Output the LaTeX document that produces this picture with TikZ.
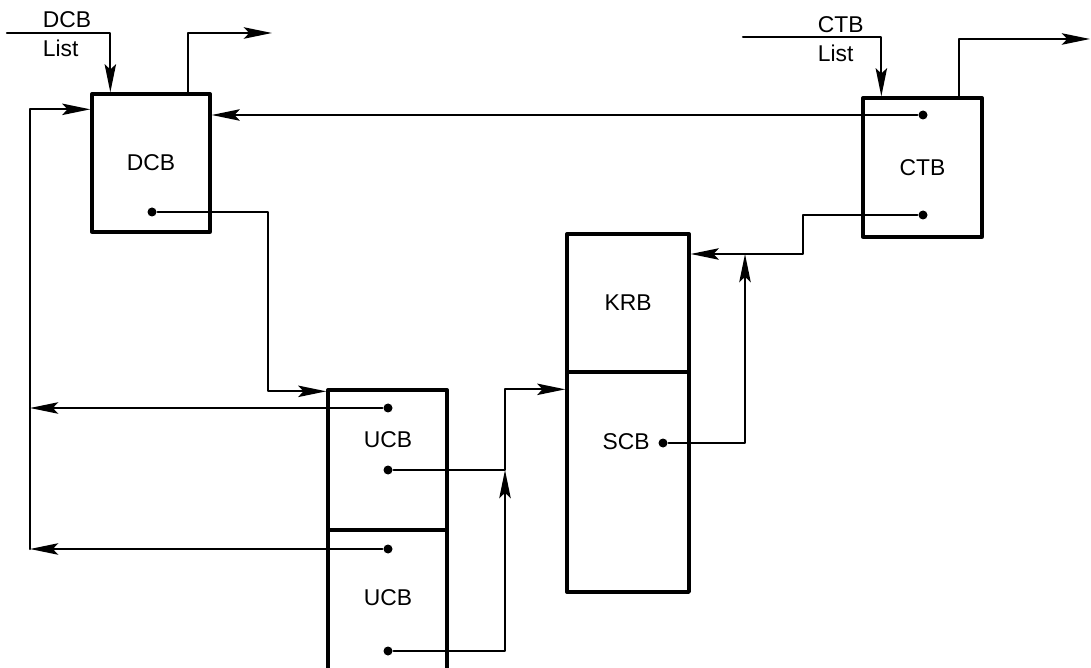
\documentclass[tikz,border=0pt]{standalone}
\usepackage{fontspec}
\setmainfont{Liberation Sans}
\usetikzlibrary{arrows.meta}
\tikzset{
	blk/.style={draw,line width=1.9pt,inner sep=0pt},
	dot/.style={circle,fill,inner sep=0pt,minimum size=1.8mm},
}
\begin{document}
\begin{tikzpicture}[x=0.2mm,y=-0.2mm,>={Stealth[length=16pt,width=6.5pt,inset=3pt]},line join=round,line cap=round,line width=1.2pt,font=\fontsize{13}{15}\selectfont]
	\useasboundingbox (0,0) rectangle (1091,668);
	% blocks
	\node[blk,minimum width=2.36cm,minimum height=2.76cm] (dcb) at (151,163) {DCB};
	\node[blk,minimum width=2.38cm,minimum height=2.78cm] (ctb) at (922.5,167.5) {CTB};
	\node[blk,minimum width=2.44cm,minimum height=2.76cm] (krb) at (628,303) {KRB};
	\node[blk,minimum width=2.44cm,minimum height=4.4cm] (scb) at (628,482) {};
	\node[blk,minimum width=2.38cm,minimum height=2.8cm] (ucba) at (387.5,460) {};
	\node[minimum width=2.38cm,minimum height=3.2cm,inner sep=0pt,outer sep=0pt] (ucbb) at (387.5,610) {};
	\draw[line width=1.9pt] (ucbb.south west)--(ucbb.north west)--(ucbb.north east)--(ucbb.south east);
	\node (scbtxt) at (626,442) {SCB};
	\node (ucbatxt) at (388,440) {UCB};
	\node (ucbbtxt) at (388,598) {UCB};
	% pointers
	\node[dot] (dd) at (152,212) {};
	\node[dot] (ct1) at (923,115) {};
	\node[dot] (ct2) at (923,215) {};
	\node[dot] (sd) at (663,443) {};
	\node[dot] (ua) at (388,408) {};
	\node[dot] (ub) at (388,470) {};
	\node[dot] (uc) at (388,549) {};
	\node[dot] (ud) at (388,651) {};
	\coordinate (dcbin) at (7,33);
	\coordinate (dcbout) at (272,33);
	\coordinate (ctbin) at (743,37);
	\coordinate (ctbout) at (1090,39);
	\coordinate (lft) at (30,0);
	\coordinate (j1) at (268,0);
	\coordinate (j2) at (505,470);
	\coordinate (j3) at (745,254);
	\coordinate (j4) at (803,0);
	% lists
	\draw[->] (dcbin) -| ([xshift=4mm]dcb.north west);
	\draw[->] ([xshift=19.6mm]dcb.north west) |- (dcbout);
	\draw[->] (ctbin) -| ([xshift=4mm]ctb.north west);
	\draw[->] ([xshift=19.6mm]ctb.north west) |- (ctbout);
	\node[anchor=west] (dcbl1) at (36,20) {DCB};
	\node[anchor=west] (dcbl2) at (36,48) {List};
	\node[anchor=west] (ctbl1) at (811,25) {CTB};
	\node[anchor=west] (ctbl2) at (811,53) {List};
	% links
	\draw[->] (ua) -- (ua -| lft);
	\draw[->] (uc) -- (uc -| lft);
	\draw[->] (uc -| lft) |- ([yshift=-3.4mm]dcb.north west);
	\draw[->] (ct1) -- (ct1 -| dcb.east);
	\draw[->] (dd) -- (dd -| j1) |- ([yshift=-0.6mm]ucba.north west);
	\draw[->] (ub) -- (j2) |- ([yshift=-3.8mm]scb.north west);
	\draw[->] (ud) -| (j2);
	\draw[->] (sd) -| (j3);
	\draw[->] (ct2) -| (j4 |- j3) -- (j3 -| krb.east);
\end{tikzpicture}
\end{document}
